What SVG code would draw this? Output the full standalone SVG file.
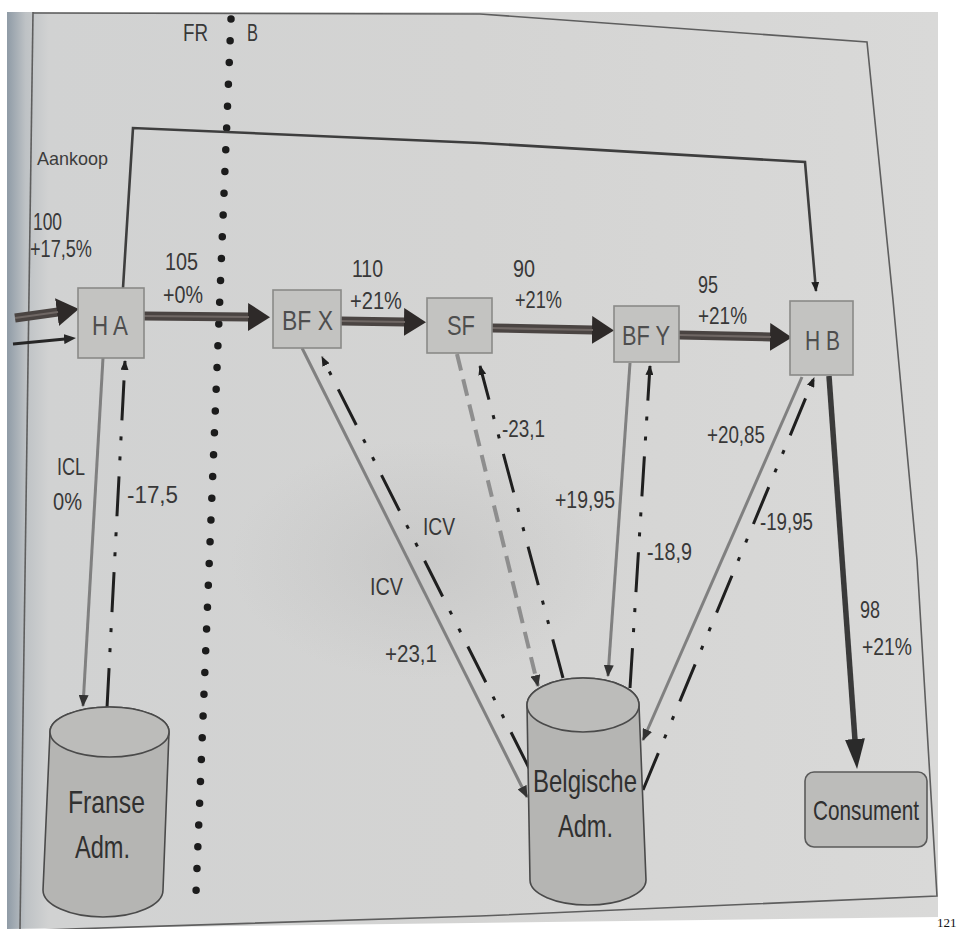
<svg xmlns="http://www.w3.org/2000/svg" width="960" height="929" viewBox="0 0 960 929">
  <style>
    text { font-family: "Liberation Sans", Arial, sans-serif; }
    .lbl { font-size: 23px; fill: #383838; }
    .small { font-size: 19px; fill: #3c3c3c; }
    .nodeText { font-size: 27px; fill: #4e4e4e; }
    .admText { font-size: 32px; fill: #303030; }
    .box { fill: #c3c3c1; stroke: #8a8a88; stroke-width: 1.6; }
    .cyl { fill: #b5b5b3; stroke: #4a4a4a; stroke-width: 1.6; }
    .cylTop { fill: #bcbcba; stroke: #4a4a4a; stroke-width: 1.6; }
    .shaft { stroke: #4a4442; stroke-width: 9; fill: none; }
    .shaftCore { stroke: #6f6764; stroke-width: 2.2; fill: none; }
    .grayLine { stroke: #808080; stroke-width: 3; fill: none; }
    .grayDash { stroke: #8e8e8e; stroke-width: 4; fill: none; stroke-dasharray: 17 9; }
    .refund { stroke: #1f1f1f; stroke-width: 3; fill: none; stroke-dasharray: 40 16 4 16 4 16; }
    .border { stroke: #1c1c1c; stroke-width: 7.5; stroke-linecap: round; fill: none; stroke-dasharray: 0 21.8; }
    .frame { stroke: #5e5e5e; stroke-width: 1.6; fill: none; }
  </style>
  <defs>
    <linearGradient id="paper" x1="7" y1="0" x2="938" y2="0" gradientUnits="userSpaceOnUse">
      <stop offset="0" stop-color="#8f9ba6"/>
      <stop offset="0.02" stop-color="#bec2c5"/>
      <stop offset="0.045" stop-color="#d1d2d2"/>
      <stop offset="0.5" stop-color="#d4d4d3"/>
      <stop offset="1" stop-color="#d9d9d8"/>
    </linearGradient>
    <radialGradient id="shadow" cx="0.5" cy="0.5" r="0.5">
      <stop offset="0" stop-color="#a9a9a9" stop-opacity="0.25"/>
      <stop offset="1" stop-color="#a9a9a9" stop-opacity="0"/>
    </radialGradient>
    <marker id="headBig" viewBox="0 0 22 28" refX="1" refY="14" markerWidth="22" markerHeight="28" markerUnits="userSpaceOnUse" orient="auto">
      <path d="M0,0 L22,14 L0,28 Z" fill="#2e2a29"/>
    </marker>
    <marker id="headDown" viewBox="0 0 30 20" refX="1" refY="10" markerWidth="30" markerHeight="20" markerUnits="userSpaceOnUse" orient="auto">
      <path d="M0,0 L30,10 L0,20 Z" fill="#2a2a2a"/>
    </marker>
    <marker id="headDark" viewBox="0 0 10 8" refX="9" refY="4" markerWidth="10" markerHeight="8" markerUnits="userSpaceOnUse" orient="auto">
      <path d="M0,0 L10,4 L0,8 Z" fill="#1f1f1f"/>
    </marker>
    <marker id="headGray" viewBox="0 0 12 10" refX="11" refY="5" markerWidth="12" markerHeight="10" markerUnits="userSpaceOnUse" orient="auto">
      <path d="M0,0 L12,5 L0,10 Z" fill="#333333"/>
    </marker>
    <marker id="headThin" viewBox="0 0 12 10" refX="1" refY="5" markerWidth="12" markerHeight="10" markerUnits="userSpaceOnUse" orient="auto">
      <path d="M0,0 L12,5 L0,10 Z" fill="#262626"/>
    </marker>
  </defs>

  <!-- page -->
  <rect width="960" height="929" fill="#ffffff"/>
  <path d="M7,12 L938,12 L938,917 L7,929 Z" fill="url(#paper)"/>
  <ellipse cx="420" cy="560" rx="190" ry="120" fill="url(#shadow)"/>
  <path class="frame" d="M33,12 L20,929"/>
  <path class="frame" d="M33,13 L480,14 L867,42 L893,300 L917,560 L937,896 L480,916 L7,931"/>
  <text x="937" y="927" style="font-family:'Liberation Serif','Times New Roman',serif;font-size:13px;fill:#111">121</text>

  <!-- FR / B border -->
  <g id="border">
    <path class="border" d="M231,19 L196,893"/>
    <text class="lbl" x="183" y="41" textLength="25" lengthAdjust="spacingAndGlyphs">FR</text>
    <text class="lbl" x="247" y="41" textLength="11" lengthAdjust="spacingAndGlyphs">B</text>
  </g>

  <!-- connectors -->
  <g id="connectors">
    <!-- incoming arrows -->
    <path class="shaft" d="M15,318 L58,312" marker-end="url(#headBig)"/>
    <path class="shaftCore" d="M15,318 L58,312"/>
    <path d="M13,344 L65,339" stroke="#262626" stroke-width="3" fill="none" marker-end="url(#headThin)"/>

    <!-- goods chain -->
    <path class="shaft" d="M144,316 L249,317" marker-end="url(#headBig)"/>
    <path class="shaftCore" d="M144,316 L249,317"/>
    <path class="shaft" d="M341,321 L405,322" marker-end="url(#headBig)"/>
    <path class="shaftCore" d="M341,321 L405,322"/>
    <path class="shaft" d="M492,328 L593,330" marker-end="url(#headBig)"/>
    <path class="shaftCore" d="M492,328 L593,330"/>
    <path class="shaft" d="M679,335 L771,337" marker-end="url(#headBig)"/>
    <path class="shaftCore" d="M679,335 L771,337"/>

    <!-- Aankoop invoicing line -->
    <path d="M123,288 L133,128 L480,143 L805,162 L816,291" stroke="#3e3e3e" stroke-width="2.6" fill="none" marker-end="url(#headDark)"/>

    <!-- to consumer -->
    <path d="M829,376 L855,740" stroke="#3a3a3a" stroke-width="5.5" fill="none" marker-end="url(#headDown)"/>

    <!-- VAT payments to administrations -->
    <path class="grayLine" d="M103,358 L83,706" marker-end="url(#headGray)"/>
    <path class="grayLine" d="M302,348 L527,797" marker-end="url(#headGray)"/>
    <path class="grayDash" d="M457,354 L538,686" marker-end="url(#headGray)"/>
    <path class="grayLine" d="M630,363 L608,676" marker-end="url(#headGray)"/>
    <path class="grayLine" d="M802,377 L643,740" marker-end="url(#headGray)"/>

    <!-- deductions / refunds -->
    <path class="refund" d="M107,708 L125,361" marker-end="url(#headDark)"/>
    <path class="refund" d="M529,768 L322,357" marker-end="url(#headDark)"/>
    <path class="refund" d="M563,678 L480,366" marker-end="url(#headDark)"/>
    <path class="refund" d="M630,688 L650,366" marker-end="url(#headDark)"/>
    <path class="refund" d="M643,790 L814,378" marker-end="url(#headDark)"/>
  </g>

  <!-- nodes -->
  <g id="node-ha">
    <rect class="box" x="78" y="288" width="66" height="70"/>
    <text class="nodeText" x="92" y="335" textLength="36" lengthAdjust="spacingAndGlyphs">H A</text>
  </g>
  <g id="node-bfx">
    <rect class="box" x="273" y="290" width="68" height="58"/>
    <text class="nodeText" x="282" y="330" textLength="51" lengthAdjust="spacingAndGlyphs">BF X</text>
  </g>
  <g id="node-sf">
    <rect class="box" x="427" y="298" width="65" height="55"/>
    <text class="nodeText" x="447" y="335" textLength="28" lengthAdjust="spacingAndGlyphs">SF</text>
  </g>
  <g id="node-bfy">
    <rect class="box" x="614" y="306" width="65" height="56"/>
    <text class="nodeText" x="622" y="345" textLength="48" lengthAdjust="spacingAndGlyphs">BF Y</text>
  </g>
  <g id="node-hb">
    <rect class="box" x="790" y="301" width="63" height="74"/>
    <text class="nodeText" x="805" y="350" textLength="35" lengthAdjust="spacingAndGlyphs">H B</text>
  </g>
  <g id="node-consument">
    <rect x="805" y="772" width="122" height="75" rx="9" fill="#bcbcba" stroke="#5a5a5a" stroke-width="1.6"/>
    <text x="813" y="820" textLength="106" lengthAdjust="spacingAndGlyphs" style="font-size:28px;fill:#303030">Consument</text>
  </g>
  <g id="node-franse-adm">
    <path class="cyl" d="M50,732 A59.5,25 0 0 1 169,732 L163,890 A60,27 0 0 1 43,890 Z"/>
    <ellipse class="cylTop" cx="109.5" cy="732" rx="59.5" ry="25"/>
    <text class="admText" x="68" y="813" textLength="77" lengthAdjust="spacingAndGlyphs">Franse</text>
    <text class="admText" x="75" y="858" textLength="55" lengthAdjust="spacingAndGlyphs">Adm.</text>
  </g>
  <g id="node-belgische-adm">
    <path class="cyl" d="M527,705 A56,27 0 0 1 639,705 L646,880 A58,25 0 0 1 530,880 Z"/>
    <ellipse class="cylTop" cx="583" cy="705" rx="56" ry="27"/>
    <text class="admText" x="533" y="792" textLength="104" lengthAdjust="spacingAndGlyphs">Belgische</text>
    <text class="admText" x="558" y="837" textLength="55" lengthAdjust="spacingAndGlyphs">Adm.</text>
  </g>

  <!-- labels -->
  <g id="labels">
    <text class="small" x="37" y="165" textLength="71" lengthAdjust="spacingAndGlyphs">Aankoop</text>
    <text class="lbl" x="33" y="230" textLength="29" lengthAdjust="spacingAndGlyphs">100</text>
    <text class="lbl" x="30" y="257" textLength="62" lengthAdjust="spacingAndGlyphs">+17,5%</text>
    <text class="lbl" x="165" y="270" textLength="33" lengthAdjust="spacingAndGlyphs">105</text>
    <text class="lbl" x="163" y="303" textLength="40" lengthAdjust="spacingAndGlyphs">+0%</text>
    <text class="lbl" x="352" y="277" textLength="31" lengthAdjust="spacingAndGlyphs">110</text>
    <text class="lbl" x="350" y="309" textLength="52" lengthAdjust="spacingAndGlyphs">+21%</text>
    <text class="lbl" x="513" y="277" textLength="22" lengthAdjust="spacingAndGlyphs">90</text>
    <text class="lbl" x="515" y="308" textLength="47" lengthAdjust="spacingAndGlyphs">+21%</text>
    <text class="lbl" x="698" y="293" textLength="20" lengthAdjust="spacingAndGlyphs">95</text>
    <text class="lbl" x="698" y="324" textLength="49" lengthAdjust="spacingAndGlyphs">+21%</text>
    <text class="lbl" x="860" y="618" textLength="20" lengthAdjust="spacingAndGlyphs">98</text>
    <text class="lbl" x="862" y="655" textLength="50" lengthAdjust="spacingAndGlyphs">+21%</text>
    <text class="lbl" x="57" y="475" textLength="28" lengthAdjust="spacingAndGlyphs">ICL</text>
    <text class="lbl" x="53" y="510" textLength="29" lengthAdjust="spacingAndGlyphs">0%</text>
    <text class="lbl" x="127" y="503" textLength="51" lengthAdjust="spacingAndGlyphs">-17,5</text>
    <text class="lbl" x="423" y="535" textLength="32" lengthAdjust="spacingAndGlyphs">ICV</text>
    <text class="lbl" x="370" y="595" textLength="33" lengthAdjust="spacingAndGlyphs">ICV</text>
    <text class="lbl" x="385" y="662" textLength="52" lengthAdjust="spacingAndGlyphs">+23,1</text>
    <text class="lbl" x="502" y="437" textLength="43" lengthAdjust="spacingAndGlyphs">-23,1</text>
    <text class="lbl" x="555" y="508" textLength="60" lengthAdjust="spacingAndGlyphs">+19,95</text>
    <text class="lbl" x="647" y="560" textLength="45" lengthAdjust="spacingAndGlyphs">-18,9</text>
    <text class="lbl" x="707" y="443" textLength="58" lengthAdjust="spacingAndGlyphs">+20,85</text>
    <text class="lbl" x="760" y="530" textLength="53" lengthAdjust="spacingAndGlyphs">-19,95</text>
  </g>
</svg>
